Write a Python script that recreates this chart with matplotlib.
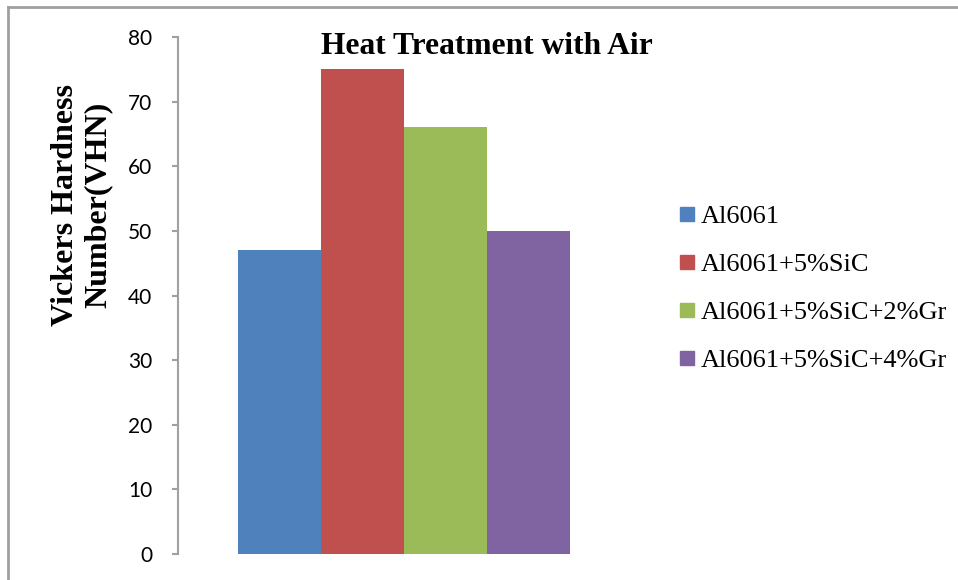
import matplotlib.pyplot as plt
from matplotlib.lines import Line2D

# Daten
series = ['Al6061', 'Al6061+5%SiC', 'Al6061+5%SiC+2%Gr', 'Al6061+5%SiC+4%Gr']
hardness = [47, 75, 66, 50]
colors = ['#4F81BD', '#C0504D', '#9BBB59', '#8064A2']
yticks = [0, 10, 20, 30, 40, 50, 60, 70, 80]

fig = plt.figure(figsize=(9.58, 5.80), dpi=100)
ax = fig.add_axes([0.1858, 0.0448, 0.4718, 0.8914])

for i, (name, val, col) in enumerate(zip(series, hardness, colors)):
    ax.bar(i, val, width=1.0, align='edge', color=col, label=name)

ax.set_xlim(-0.723, 4.723)
ax.set_ylim(0, 80)
ax.set_yticks(yticks)
ax.set_xticks([])
for s in ['top', 'right', 'bottom']:
    ax.spines[s].set_visible(False)
ax.spines['left'].set_color('#A0A0A0')
ax.spines['left'].set_linewidth(1.5)
ax.tick_params(axis='y', length=4.5, width=1.5, color='#A0A0A0', labelsize=15, pad=14)
for lab in ax.get_yticklabels():
    lab.set_fontfamily('Lato')

# Titel und Achsenbeschriftung
fig.text(0.508, 0.919, 'Heat Treatment with Air', ha='center', va='center',
         fontsize=22.7, fontweight='bold', family='Liberation Serif')
fig.text(0.0856, 0.647, 'Vickers Hardness\nNumber(VHN)', ha='center', va='center',
         rotation=90, fontsize=23, fontweight='bold', family='Liberation Serif',
         linespacing=1.15)

# Legende
handles = [Line2D([], [], marker='s', linestyle='', markersize=9.5,
                  markerfacecolor=c, markeredgecolor=c) for c in colors]
leg = fig.legend(handles, series, loc='center left', bbox_to_anchor=(0.7098, 0.5026),
                 frameon=False, prop={'family': 'Liberation Serif', 'size': 19},
                 handlelength=0.5, handletextpad=0.3, labelspacing=0.93,
                 borderpad=0, borderaxespad=0)

# Rahmen (oben und links sichtbar)
fig.add_artist(Line2D([0.0084, 0.0084], [0.0, 0.988], color='#A0A0A0', lw=2,
                      transform=fig.transFigure))
fig.add_artist(Line2D([0.0084, 1.0], [0.988, 0.988], color='#A0A0A0', lw=2,
                      transform=fig.transFigure))

fig.savefig('out.png', dpi=100)
